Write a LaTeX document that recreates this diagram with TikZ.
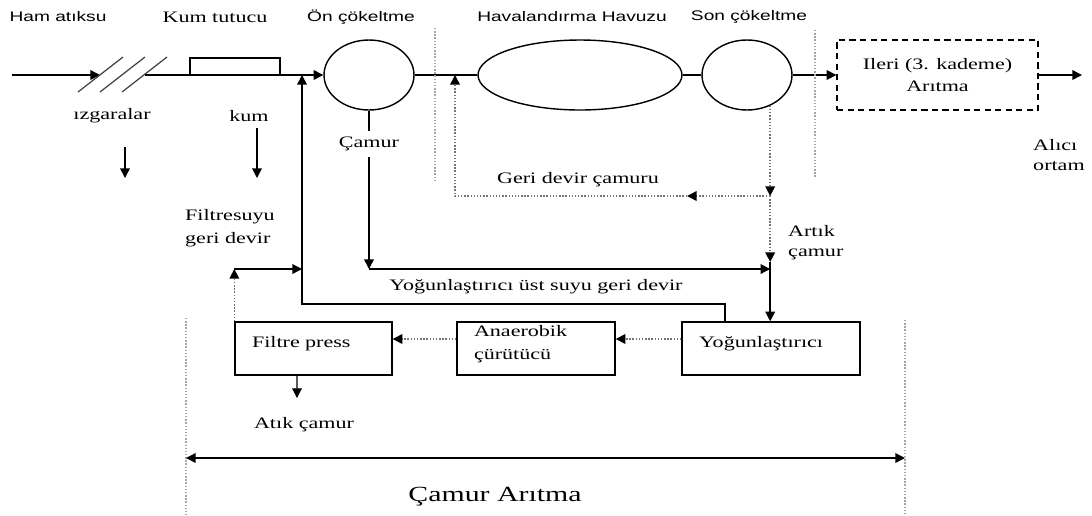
\documentclass[tikz,border=0pt]{standalone}
\usepackage{fontspec}
\setmainfont[FakeStretch=1.38]{Liberation Serif}
\newfontfamily\arialfont[FakeStretch=1.38]{Liberation Sans}
\usepackage{tikz}
\usetikzlibrary{positioning}
\usetikzlibrary{arrows.meta}
\usetikzlibrary{shapes.geometric}
\tikzset{
  tank/.style={ellipse,draw,line width=0.8pt,minimum height=1.4cm,inner sep=0pt},
  unit/.style={rectangle,draw,line width=0.8pt,minimum height=1.06cm,
               inner xsep=0.34cm,inner ysep=1pt,align=left,font=\fontsize{9.1}{13}\selectfont},
  flow/.style={->,line width=0.8pt},
  dotflow/.style={->,densely dotted,line width=0.8pt,draw=black!55},
  divider/.style={densely dotted,line width=0.8pt,draw=black!35},
  dimline/.style={<->,line width=0.8pt},
  sanslabel/.style={font=\arialfont\fontsize{7.9}{11}\selectfont},
  txt/.style={align=left,font=\fontsize{9.1}{11.5}\selectfont},
}

\begin{document}
\begin{tikzpicture}[x=0.02cm,y=-0.02cm,>={Triangle[length=5.5pt,width=5.5pt,color=black]}]
  \useasboundingbox (0,0) rectangle (1092,515);

  \node[tank,minimum width=1.8cm]  (on)  at (369,75) {};
  \node[tank,minimum width=4.08cm] (hav) at (580,75) {};
  \node[tank,minimum width=1.8cm]  (son) at (747,75) {};
  \node[unit,dashed,dash pattern=on 3.5pt off 2.5pt,align=center,
        minimum width=4.02cm,minimum height=1.4cm,inner xsep=0pt] (ileri) at (937.5,75)
        {Ileri (3. kademe)\\Arıtma};

  \node[unit,text width=2.46cm,text depth=0.7em] (filtre) at (313.5,348.5) {Filtre press};
  \node[unit,text width=2.48cm,text depth=19.5pt] (anaer) at (536,348.5)   {Anaerobik\\çürütücü};
  \node[unit,text width=2.88cm,text depth=0.7em] (yog)    at (771,348.5)   {Yoğunlaştırıcı};

  \coordinate (inflow) at (12,75);
  \coordinate (izgin) at (100,75);
  \coordinate (izgout) at (145,75);
  \coordinate (outflow) at (1082,75);
  \draw[flow] (inflow) -- (izgin);
  \foreach \x in {0,22,44}
    \draw[line width=0.7pt,black!75] (78+\x,92) -- (123+\x,57);
  \draw[flow] (izgout) -- (on.west);
  \node[rectangle,draw,line width=0.8pt,minimum width=1.8cm,minimum height=0.34cm,
        inner sep=0pt] (kt) at (235,66.5) {};
  \draw[line width=0.8pt] (on.east) -- (hav.west);
  \draw[line width=0.8pt] (hav.east) -- (son.west);
  \draw[flow] (son.east) -- (ileri.west);
  \draw[flow] (ileri.east) -- (outflow);

  \coordinate (izga) at (125,147);
  \coordinate (izgb) at (125,178);
  \coordinate (kuma) at (257,128);
  \coordinate (kumb) at (257,178);
  \draw[flow] (izga) -- (izgb);
  \draw[flow] (kuma) -- (kumb);

  \node[txt] (camur) at (369,144) {Çamur};
  \draw[line width=0.8pt] (on.south) -- (camur.north);

  \coordinate (gdy) at (0,196);
  \coordinate (gdc) at (son.-53 |- gdy);
  \coordinate (gdm) at (687,196);
  \coordinate (gdl) at (455,196);
  \coordinate (gdt) at (455,75);
  \draw[dotflow] (son.-53) -- (gdc);
  \draw[dotflow] (gdc) -- (gdm);
  \draw[dotflow] (gdm) -- (gdl) -- (gdt);

  \coordinate (arty) at (0,262);
  \coordinate (artb) at (gdc |- arty);
  \coordinate (ay) at (0,269);
  \coordinate (artc) at (gdc |- ay);
  \draw[dotflow] (gdc) -- (artb);
  \draw[flow] (artb) -- (artb |- yog.north);
  \draw[flow] (camur.south) -- (camur.south |- artc);
  \draw[flow] (camur.south |- artc) -- (artc);

  \coordinate (ret) at (302,75);
  \coordinate (ustc) at (302,304);
  \draw[flow] ([xshift=-0.92cm]yog.north) |- (ustc) -- (ret);

  \draw[dotflow] (filtre.north west) -- (filtre.north west |- ay);
  \draw[flow] (filtre.north west |- ay) -- (ret |- ay);

  \draw[dotflow] ([yshift=0.19cm]yog.west) -- ([yshift=0.19cm]anaer.east);
  \draw[dotflow] ([yshift=0.19cm]anaer.west) -- ([yshift=0.19cm]filtre.east);

  \coordinate (atk) at (297,398);
  \draw[->,line width=0.6pt] ([xshift=-0.33cm]filtre.south) -- (atk);

  \draw[divider] (435,28) -- (435,180);
  \draw[divider] (815,30) -- (815,178);
  \draw[divider] (186,318) -- (186,515);
  \draw[divider] (905,320) -- (905,515);

  \coordinate (caL) at (186,458);
  \coordinate (caR) at (905,458);
  \draw[dimline] (caL) -- (caR);

  \node[sanslabel] (hamlbl) at (58,17)  {Ham atıksu};
  \node[txt]       (ktlbl)  at (215,17) {Kum tutucu};
  \node[sanslabel] (onlbl)  at (361,17) {Ön çökeltme};
  \node[sanslabel] (havlbl) at (572,17) {Havalandırma Havuzu};
  \node[sanslabel] (sonlbl) at (749,17) {Son çökeltme};
  \node[txt] (izglbl) at (112,116) {ızgaralar};
  \node[txt] (kumlbl) at (249,116) {kum};
  \node[txt] (gdlbl)  at (578,180) {Geri devir çamuru};
  \node[txt,anchor=west] (alici) at (1027,155) {Alıcı\\ortam};
  \node[txt,anchor=west,font=\fontsize{9.1}{13}\selectfont] (fslbl) at (179,228) {Filtresuyu\\geri devir};
  \node[txt] (ustlbl) at (536,287) {Yoğunlaştırıcı üst suyu geri devir};
  \node[txt,anchor=west] (artlbl) at (782,243) {Artık\\çamur};
  \node[txt] (atklbl) at (304,425) {Atık çamur};
  \node[font=\fontsize{12.3}{14}\selectfont] (calbl) at (495,497) {Çamur Arıtma};
\end{tikzpicture}
\end{document}
